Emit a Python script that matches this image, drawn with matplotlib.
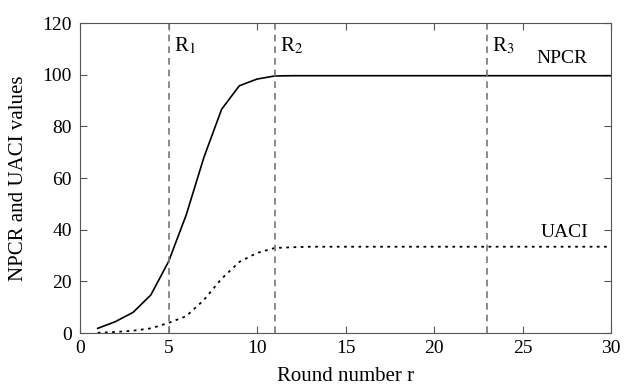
import numpy as np
import matplotlib
matplotlib.use('Agg')
import matplotlib.pyplot as plt

plt.rcParams['font.family'] = ['Liberation Serif', 'DejaVu Serif']
plt.rcParams['mathtext.fontset'] = 'stix'

# Round numbers and values
rounds = np.arange(1, 31)
npcr = [1.8, 4.4, 8.0, 14.7, 27.6, 45.7, 68.0, 86.6, 95.7, 98.3, 99.5] + [99.6] * 19
uaci = [0.1, 0.4, 0.9, 1.8, 3.9, 6.5, 12.8, 21.0, 27.5, 31.0, 32.9, 33.2] + [33.4] * 18

r_lines = [5, 11, 23]
r_labels = ['R$_1$', 'R$_2$', 'R$_3$']

fig = plt.figure(figsize=(6.27, 3.92), dpi=100)
ax = fig.add_axes([0.1276, 0.1505, 0.8469, 0.7908])

ax.plot(rounds, npcr, color='black', lw=1.2)
ax.plot(rounds, uaci, color='black', lw=1.3, linestyle=(0, (1.5, 2.5)))

for xv, lab in zip(r_lines, r_labels):
    ax.axvline(xv, color='#777777', lw=1.2, linestyle=(0, (4, 3)))
    ax.text(xv + 0.3, 115, lab, fontsize=15, va='top', ha='left')

ax.text(25.8, 103, 'NPCR', fontsize=14, ha='left', va='bottom')
ax.text(26.0, 35.5, 'UACI', fontsize=14, ha='left', va='bottom')

ax.set_xlim(0, 30)
ax.set_ylim(0, 120)
ax.set_xticks([0, 5, 10, 15, 20, 25, 30])
ax.set_yticks([0, 20, 40, 60, 80, 100, 120])
ax.tick_params(direction='in', top=True, right=True, labelsize=14, length=5, color='#555555')
ax.tick_params(axis='x', pad=5)
ax.tick_params(axis='y', pad=6)
for s in ax.spines.values():
    s.set_color('#555555')
ax.set_xlabel('Round number r', fontsize=15, labelpad=7)
ax.set_ylabel('NPCR and UACI values', fontsize=15, labelpad=10)

fig.savefig('out.png', dpi=100)
